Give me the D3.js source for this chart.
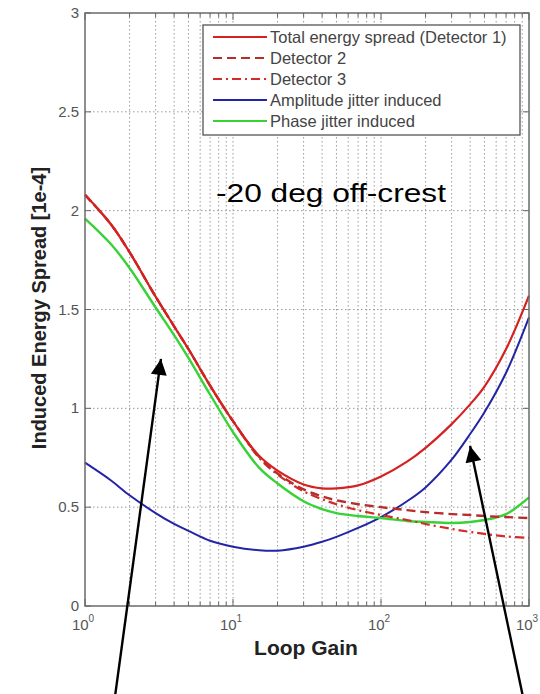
<!DOCTYPE html>
<html>
<head>
<meta charset="utf-8">
<script src="https://cdn.jsdelivr.net/npm/d3@7"></script>
<style>
  body { margin: 0; background: #fff; }
  svg { display: block; font-family: "Liberation Sans", Arial, sans-serif; }
</style>
</head>
<body>
<div id="chart"></div>
<script>
"use strict";

// loop gain samples and the curves (units of 1e-4)
const gains = [1, 1.5, 2, 3, 4, 5, 7, 10, 15, 20, 30, 40, 50, 70, 100, 150, 200, 300, 400, 500, 700, 1000];
const totalDet1 = [2.08, 1.93, 1.79, 1.565, 1.415, 1.30, 1.115, 0.935, 0.76, 0.685, 0.615, 0.595, 0.595, 0.61, 0.655, 0.73, 0.80, 0.92, 1.02, 1.11, 1.30, 1.57];
const detector2 = [2.08, 1.93, 1.79, 1.565, 1.415, 1.30, 1.115, 0.935, 0.755, 0.67, 0.59, 0.555, 0.535, 0.515, 0.50, 0.485, 0.475, 0.465, 0.46, 0.455, 0.45, 0.445];
const detector3 = [2.08, 1.93, 1.79, 1.565, 1.415, 1.30, 1.115, 0.935, 0.75, 0.665, 0.58, 0.54, 0.515, 0.485, 0.46, 0.435, 0.415, 0.39, 0.375, 0.365, 0.352, 0.345];
const amplitude = [0.725, 0.635, 0.56, 0.47, 0.415, 0.38, 0.33, 0.30, 0.282, 0.28, 0.30, 0.325, 0.35, 0.395, 0.45, 0.53, 0.6, 0.74, 0.87, 0.98, 1.18, 1.46];
const phase = [1.96, 1.83, 1.71, 1.51, 1.37, 1.255, 1.07, 0.88, 0.70, 0.62, 0.53, 0.49, 0.47, 0.455, 0.445, 0.43, 0.425, 0.42, 0.425, 0.435, 0.465, 0.55];

const yTicks = [0, 0.5, 1, 1.5, 2, 2.5, 3];
const yTickLabels = ["0", "0.5", "1", "1.5", "2", "2.5", "3"];
const xMajor = [1, 10, 100, 1000];
const xExponents = ["0", "1", "2", "3"];

const legendNames = ["Total energy spread (Detector 1)", "Detector 2", "Detector 3", "Amplitude jitter induced", "Phase jitter induced"];

// arrows: [tail gain, tail value, tip gain, tip value]
const arrows = [
    [1.6, -0.45, 3.26, 1.25],
    [905, -0.45, 400, 0.81]
];

const W = 540, H = 694;
const pLeft = 85, pRight = 529, pTop = 13, pBottom = 606;

const svg = d3.select("#chart").append("svg")
    .attr("width", W)
    .attr("height", H);

svg.append("rect").attr("width", W).attr("height", H).attr("fill", "#fff");

const x = d3.scaleLog().domain([1, 1000]).range([pLeft, pRight]);
const y = d3.scaleLinear().domain([0, 3]).range([pBottom, pTop]);

// minor positions 2..9 for each decade
let xMinor = [];
[1, 10, 100].forEach(function(d) {
    for (let k = 2; k <= 9; k++) xMinor.push(d * k);
});
const xGridVals = xMinor.concat([10, 100]);

// grid
const grid = svg.append("g")
    .attr("stroke", "#9a9a9a")
    .attr("stroke-width", 1)
    .attr("stroke-dasharray", "1.5,2.5");

grid.selectAll("line.vx")
    .data(xGridVals)
    .enter().append("line")
        .attr("x1", function(d) { return x(d); })
        .attr("x2", function(d) { return x(d); })
        .attr("y1", pTop)
        .attr("y2", pBottom);

grid.selectAll("line.hy")
    .data(yTicks.slice(1, -1))
    .enter().append("line")
        .attr("x1", pLeft)
        .attr("x2", pRight)
        .attr("y1", function(d) { return y(d); })
        .attr("y2", function(d) { return y(d); });

// inward ticks on all four sides
const ticks = svg.append("g").attr("stroke", "#666").attr("stroke-width", 1);

function tickX(vals, len) {
    ticks.selectAll(null).data(vals).enter().append("line")
        .attr("x1", function(d) { return x(d); }).attr("x2", function(d) { return x(d); })
        .attr("y1", pBottom).attr("y2", pBottom - len);
    ticks.selectAll(null).data(vals).enter().append("line")
        .attr("x1", function(d) { return x(d); }).attr("x2", function(d) { return x(d); })
        .attr("y1", pTop).attr("y2", pTop + len);
}
tickX(xMinor, 4);
tickX(xMajor, 7);

ticks.selectAll(null).data(yTicks).enter().append("line")
    .attr("x1", pLeft).attr("x2", pLeft + 6)
    .attr("y1", function(d) { return y(d); }).attr("y2", function(d) { return y(d); });
ticks.selectAll(null).data(yTicks).enter().append("line")
    .attr("x1", pRight).attr("x2", pRight - 6)
    .attr("y1", function(d) { return y(d); }).attr("y2", function(d) { return y(d); });

// tick labels
svg.append("g").selectAll("text")
    .data(yTicks)
    .enter().append("text")
        .attr("x", pLeft - 6)
        .attr("y", function(d) { return y(d) + 5; })
        .attr("text-anchor", "end")
        .attr("font-size", 15)
        .attr("fill", "#555")
        .text(function(d, i) { return yTickLabels[i]; });

const xl = svg.append("g").selectAll("text")
    .data(xMajor)
    .enter().append("text")
        .attr("x", function(d) { return x(d) - 2; })
        .attr("y", 630)
        .attr("text-anchor", "middle")
        .attr("font-size", 15)
        .attr("fill", "#555");
xl.append("tspan").text("10");
xl.append("tspan")
    .attr("dy", -8)
    .attr("font-size", 10)
    .text(function(d, i) { return xExponents[i]; });

// axis titles
svg.append("text")
    .attr("x", 306)
    .attr("y", 655)
    .attr("text-anchor", "middle")
    .attr("font-size", 21)
    .attr("font-weight", "bold")
    .attr("fill", "#222")
    .text("Loop Gain");

svg.append("text")
    .attr("transform", "translate(46,308) rotate(-90)")
    .attr("text-anchor", "middle")
    .attr("font-size", 20)
    .attr("font-weight", "bold")
    .attr("fill", "#222")
    .text("Induced Energy Spread [1e-4]");

// curves
const series = [
    { vals: amplitude, color: "#2424a6", dash: null, w: 2 },
    { vals: phase, color: "#36d236", dash: null, w: 2.4 },
    { vals: detector3, color: "#d42a2a", dash: "9,4,2,4", w: 2.2 },
    { vals: detector2, color: "#b82c2c", dash: "9,5", w: 2.4 },
    { vals: totalDet1, color: "#d42222", dash: null, w: 2.2 }
];

const line = d3.line()
    .x(function(d) { return x(d[0]); })
    .y(function(d) { return y(d[1]); })
    .curve(d3.curveCatmullRom.alpha(0.5));

svg.append("g").selectAll("path")
    .data(series)
    .enter().append("path")
        .attr("d", function(s) { return line(gains.map(function(g, i) { return [g, s.vals[i]]; })); })
        .attr("fill", "none")
        .attr("stroke", function(s) { return s.color; })
        .attr("stroke-width", function(s) { return s.w; })
        .attr("stroke-dasharray", function(s) { return s.dash; });

// frame
svg.append("rect")
    .attr("x", pLeft).attr("y", pTop)
    .attr("width", pRight - pLeft).attr("height", pBottom - pTop)
    .attr("fill", "none")
    .attr("stroke", "#6a6a6a")
    .attr("stroke-width", 1.5);

// legend
const legendStyle = [series[4], series[3], series[2], series[0], series[1]];
const lg = svg.append("g");
lg.append("rect")
    .attr("x", 203).attr("y", 25)
    .attr("width", 317).attr("height", 110)
    .attr("fill", "#fff")
    .attr("stroke", "#555")
    .attr("stroke-width", 1.3);

const rows = lg.selectAll("g.row")
    .data(legendNames)
    .enter().append("g")
        .attr("transform", function(d, i) { return "translate(0," + (37 + i * 21) + ")"; });
rows.append("line")
    .attr("x1", 213).attr("x2", 267)
    .attr("y1", 0).attr("y2", 0)
    .attr("stroke", function(d, i) { return legendStyle[i].color; })
    .attr("stroke-width", 2.2)
    .attr("stroke-dasharray", function(d, i) { return legendStyle[i].dash; });
rows.append("text")
    .attr("x", 270)
    .attr("y", 6)
    .attr("font-size", 16.5)
    .attr("fill", "#444")
    .text(function(d) { return d; });

// annotation
svg.append("text")
    .attr("x", 216)
    .attr("y", 202)
    .attr("font-size", 25)
    .attr("textLength", 230)
    .attr("lengthAdjust", "spacingAndGlyphs")
    .attr("fill", "#000")
    .text("-20 deg off-crest");

// arrows
const defs = svg.append("defs");
defs.append("marker")
    .attr("id", "head")
    .attr("viewBox", "0 0 10 10")
    .attr("refX", 10).attr("refY", 5)
    .attr("markerUnits", "userSpaceOnUse")
    .attr("markerWidth", 27).attr("markerHeight", 16)
    .attr("orient", "auto")
    .append("path")
        .attr("d", "M0,0 L10,5 L0,10 Z")
        .attr("fill", "#000");

svg.append("g").selectAll("line")
    .data(arrows)
    .enter().append("line")
        .attr("x1", function(a) { return x(a[0]); })
        .attr("y1", function(a) { return y(a[1]); })
        .attr("x2", function(a) { return x(a[2]); })
        .attr("y2", function(a) { return y(a[3]); })
        .attr("stroke", "#000")
        .attr("stroke-width", 2.4)
        .attr("marker-end", "url(#head)");
</script>
</body>
</html>
